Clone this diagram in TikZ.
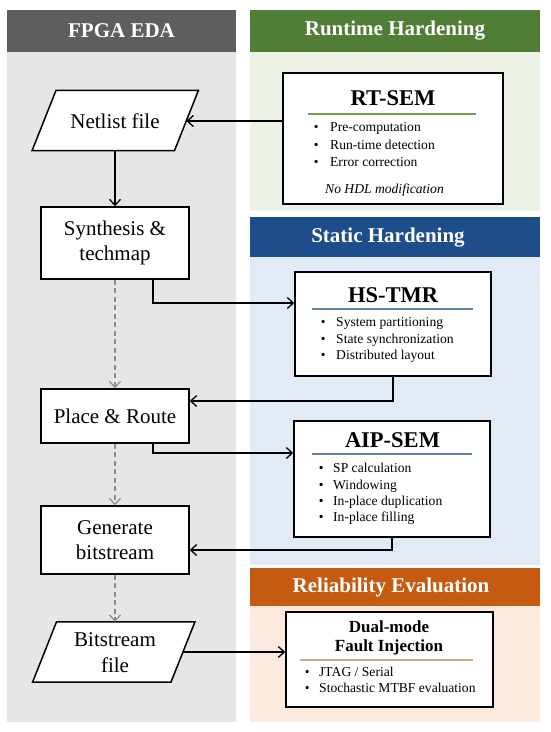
\documentclass[tikz,border=0pt]{standalone}
\usepackage{fontspec}
\setmainfont{Liberation Serif}
\usetikzlibrary{arrows.meta,calc}
\definecolor{hdrgray}{HTML}{5E5E5E}
\definecolor{bggray}{HTML}{E6E6E6}
\definecolor{hdrgreen}{HTML}{507E36}
\definecolor{bggreen}{HTML}{EDF2E6}
\definecolor{hdrblue}{HTML}{1E4D8C}
\definecolor{bgblue}{HTML}{E2EAF5}
\definecolor{hdrorange}{HTML}{C55A11}
\definecolor{bgorange}{HTML}{FDEADF}
\definecolor{rulegreen}{HTML}{6E9E4E}
\definecolor{ruleblue}{HTML}{5E7FA6}
\definecolor{ruletan}{HTML}{D5A683}
\definecolor{dashgray}{HTML}{8C8C8C}
\newcommand\bul[1]{\makebox[#1][l]{\textbullet}}
\begin{document}
\begin{tikzpicture}[x=1pt,y=-1pt,
  hdr/.style={text=white,font=\fontsize{21}{24}\selectfont\bfseries,inner sep=0pt},
  flowbox/.style={draw,line width=1.5pt,fill=white,minimum width=148pt,align=center,inner sep=0pt,font=\fontsize{21}{25.5}\selectfont},
  flowtext/.style={align=center,inner sep=0pt,font=\fontsize{21}{25.5}\selectfont},
  rbox/.style={draw,line width=1.5pt,fill=white,inner sep=0pt},
  ttl/.style={inner sep=0pt,font=\fontsize{22.5}{24}\selectfont\bfseries},
  itm/.style={anchor=west,inner sep=0pt,text height=1.5ex,text depth=0.25ex,font=\fontsize{13.6}{16}\selectfont},
  rul/.style={line width=1.2pt},
  conn/.style={line width=1.3pt,-{Straight Barb[length=6pt,width=11pt]}},
  dconn/.style={line width=1.2pt,dashgray,dash pattern=on 5pt off 3.5pt,-{Straight Barb[length=6pt,width=11pt]}}]
\useasboundingbox (0,0) rectangle (550,732);
\fill[white] (0,0) rectangle (550,732);
% panels
\fill[bggray] (7,52) rectangle (236,722);
\fill[hdrgray] (7,10) rectangle (236,52);
\fill[bggreen] (250,52) rectangle (540,211);
\fill[hdrgreen] (250,10) rectangle (540,52);
\fill[hdrblue] (250,217) rectangle (540,257);
\fill[bgblue] (250,257) rectangle (540,565);
\fill[hdrorange] (250,568) rectangle (540,606);
\fill[bgorange] (250,606) rectangle (540,722);
\node[hdr] (hEDA) at (121.5,31) {FPGA EDA};
\node[hdr] (hRT) at (395,31) {Runtime Hardening};
\node[hdr] (hST) at (388,238) {Static Hardening};
\node[hdr] (hRE) at (391,587) {Reliability Evaluation};
% left flow
\node[minimum width=142pt,minimum height=60pt,inner sep=0pt] (net) at (115.25,120.5) {};
\filldraw[fill=white,line width=1.5pt] ([xshift=12pt]net.north west) -- ([xshift=12pt]net.north east) -- ([xshift=-12pt]net.south east) -- ([xshift=-12pt]net.south west) -- cycle;
\node[flowtext] (netT) at (115,121) {Netlist file};
\node[flowbox,minimum height=72pt] (synth) at (115,243) {Synthesis \&\\techmap};
\node[flowbox,minimum height=54pt] (pr) at (115,416) {Place \& Route};
\node[flowbox,minimum height=68pt] (gen) at (115,540) {Generate\\bitstream};
\node[minimum width=138pt,minimum height=60pt,inner sep=0pt] (bit) at (113.75,652) {};
\filldraw[fill=white,line width=1.5pt] ([xshift=12pt]bit.north west) -- ([xshift=12pt]bit.north east) -- ([xshift=-12pt]bit.south east) -- ([xshift=-12pt]bit.south west) -- cycle;
\node[flowtext] (bitT) at (115,652.5) {Bitstream\\file};
% RT-SEM
\node[rbox,minimum width=220pt,minimum height=131pt] (rt) at (393,138.5) {};
\node[ttl] (rtT) at (393,98) {RT-SEM};
\draw[rul,rulegreen] (308,114) -- (476,114);
\node[itm] (rt1) at (313.6,129) {\bul{16.4pt}Pre-computation};
\node[itm] (rt2) at (313.6,146.5) {\bul{16.4pt}Run-time detection};
\node[itm] (rt3) at (313.6,164) {\bul{16.4pt}Error correction};
\node[itm,font=\fontsize{13.6}{16}\selectfont\itshape] (rt4) at (325,191) {No HDL modification};
% HS-TMR
\node[rbox,minimum width=196pt,minimum height=104pt] (hs) at (393,324) {};
\node[ttl] (hsT) at (393,295) {HS-TMR};
\draw[rul,ruleblue] (312,309) -- (473,309);
\node[itm] (hs1) at (320.6,324) {\bul{15.4pt}System partitioning};
\node[itm] (hs2) at (320.6,340.5) {\bul{15.4pt}State synchronization};
\node[itm] (hs3) at (320.6,357) {\bul{15.4pt}Distributed layout};
% AIP-SEM
\node[rbox,minimum width=196pt,minimum height=116pt] (aip) at (392,479) {};
\node[ttl] (aipT) at (392.5,440) {AIP-SEM};
\draw[rul,ruleblue] (312,454) -- (472,454);
\node[itm] (aip1) at (318.6,470) {\bul{14.4pt}SP calculation};
\node[itm] (aip2) at (318.6,486.3) {\bul{14.4pt}Windowing};
\node[itm] (aip3) at (318.6,502.6) {\bul{14.4pt}In-place duplication};
\node[itm] (aip4) at (318.6,519) {\bul{14.4pt}In-place filling};
% Fault injection
\node[rbox,minimum width=207pt,minimum height=95pt] (fi) at (389.5,659.5) {};
\node[align=center,inner sep=0pt,font=\fontsize{17}{19}\selectfont\bfseries] (fiT) at (389,637.5) {Dual-mode\\Fault Injection};
\draw[rul,ruletan] (300,660) -- (473,660);
\node[itm] (fi1) at (304.6,674) {\bul{14.4pt}JTAG / Serial};
\node[itm] (fi2) at (304.6,689.5) {\bul{14.4pt}Stochastic MTBF evaluation};
% connectors
\draw[conn] (netT.east -| rt.west) -- (net.east |- netT.east);
\draw[conn] (net.south -| synth.north) -- (synth.north);
\draw[conn] ([xshift=38pt]synth.south) |- ([yshift=21pt]hs.west);
\draw[conn] (hs.south) |- ([yshift=15pt]pr.east);
\draw[conn] ([xshift=38pt]pr.south) |- ([yshift=26pt]aip.west);
\draw[conn] (aip.south) |- ([yshift=-10pt]gen.east);
\draw[conn] (bit.east) -- (bit.east -| fi.west);
\draw[dconn] (synth.south) -- (pr.north);
\draw[dconn] (pr.south) -- (gen.north);
\draw[dconn] (gen.south) -- (gen.south |- bit.north);
\end{tikzpicture}
\end{document}
